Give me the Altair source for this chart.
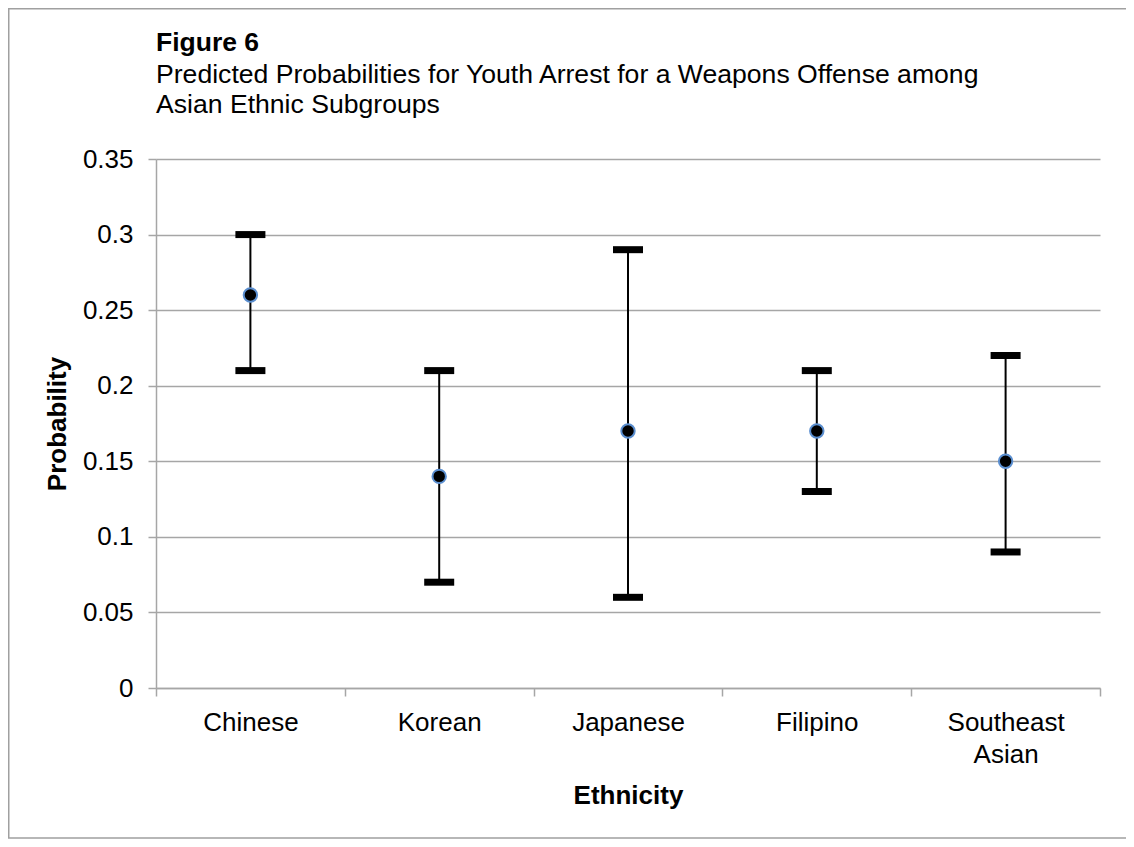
import altair as alt
import pandas as pd

ethnicity = ["Chinese", "Korean", "Japanese", "Filipino", "Southeast Asian"]
prob = [0.26, 0.14, 0.17, 0.17, 0.15]
upper = [0.30, 0.21, 0.29, 0.21, 0.22]
lower = [0.21, 0.07, 0.06, 0.13, 0.09]
y_ticks = [0, 0.05, 0.1, 0.15, 0.2, 0.25, 0.3, 0.35]

df = pd.DataFrame({"Ethnicity": ethnicity, "Probability": prob,
                   "Upper": upper, "Lower": lower})

FONT = "Liberation Sans"
W, H = 944, 529
PAD_L, PAD_T, PAD_R, PAD_B = 148, 151, 26, 151

xenc = alt.X("Ethnicity:N", sort=ethnicity,
             scale=alt.Scale(type="band", paddingInner=0, paddingOuter=0),
             axis=alt.Axis(title="Ethnicity", labelAngle=0, tickBand="extent",
                           labelExpr="datum.label == 'Southeast Asian' ? ['Southeast', 'Asian'] : datum.label",
                           labelLineHeight=32, tickSize=8, labelPadding=13,
                           titleY=115, titleBaseline="alphabetic", titleX=W / 2,
                           grid=False))
yscale = alt.Scale(domain=[0, 0.35], nice=False, zero=True)
yaxis = alt.Axis(title="Probability", values=y_ticks, format=".2~f", tickSize=8,
                 labelPadding=15, grid=True, titleX=-99, titleY=H / 2,
                 titleBaseline="middle", titleAngle=270)

base = alt.Chart(df)

rules = base.mark_rule(color="black", strokeWidth=2).encode(
    x=xenc,
    y=alt.Y("Lower:Q", scale=yscale, axis=yaxis),
    y2="Upper:Q",
)
caps_hi = base.mark_tick(color="black", thickness=7, size=30, opacity=1).encode(
    x=alt.X("Ethnicity:N", sort=ethnicity),
    y=alt.Y("Upper:Q"),
)
caps_lo = base.mark_tick(color="black", thickness=7, size=30, opacity=1).encode(
    x=alt.X("Ethnicity:N", sort=ethnicity),
    y=alt.Y("Lower:Q"),
)
points = base.mark_point(filled=False, fill="black", stroke="#5b8fd0",
                         strokeWidth=2, size=180, opacity=1, fillOpacity=1).encode(
    x=alt.X("Ethnicity:N", sort=ethnicity),
    y=alt.Y("Probability:Q"),
)

border = alt.Chart(pd.DataFrame({"b": [1]})).mark_rect(
    fill=None, stroke="#a0a0a0", strokeWidth=1.5).encode(
    x=alt.value(-PAD_L + 0.75), x2=alt.value(W + 200),
    y=alt.value(-PAD_T + 0.75), y2=alt.value(H + PAD_B - 1),
)

chart = alt.layer(border, rules, caps_hi, caps_lo, points).properties(
    width=W, height=H, background="white",
    padding={"left": PAD_L, "top": PAD_T, "right": PAD_R, "bottom": PAD_B},
    autosize=alt.AutoSizeParams(type="none"),
    title=alt.TitleParams(
        "Figure 6",
        subtitle=["Predicted Probabilities for Youth Arrest for a Weapons Offense among",
                  "Asian Ethnic Subgroups"],
        anchor="start", frame="group", font=FONT, fontSize=26.5, fontWeight="bold",
        color="black", subtitleFont=FONT, subtitleFontSize=26.6, subtitleColor="black",
        subtitleLineHeight=30, subtitlePadding=6, offset=0, dy=111,
    ),
).configure_axis(
    labelFont=FONT, labelFontSize=26, labelColor="black",
    titleFont=FONT, titleFontSize=26, titleFontWeight="bold", titleColor="black",
    domainColor="#a6a6a6", domainWidth=1.5, tickColor="#a6a6a6", tickWidth=1.5,
    gridColor="#a6a6a6", gridWidth=1.5,
).configure_view(stroke=None)

chart.save("out.html", embed_options={"renderer": "svg", "actions": False})
